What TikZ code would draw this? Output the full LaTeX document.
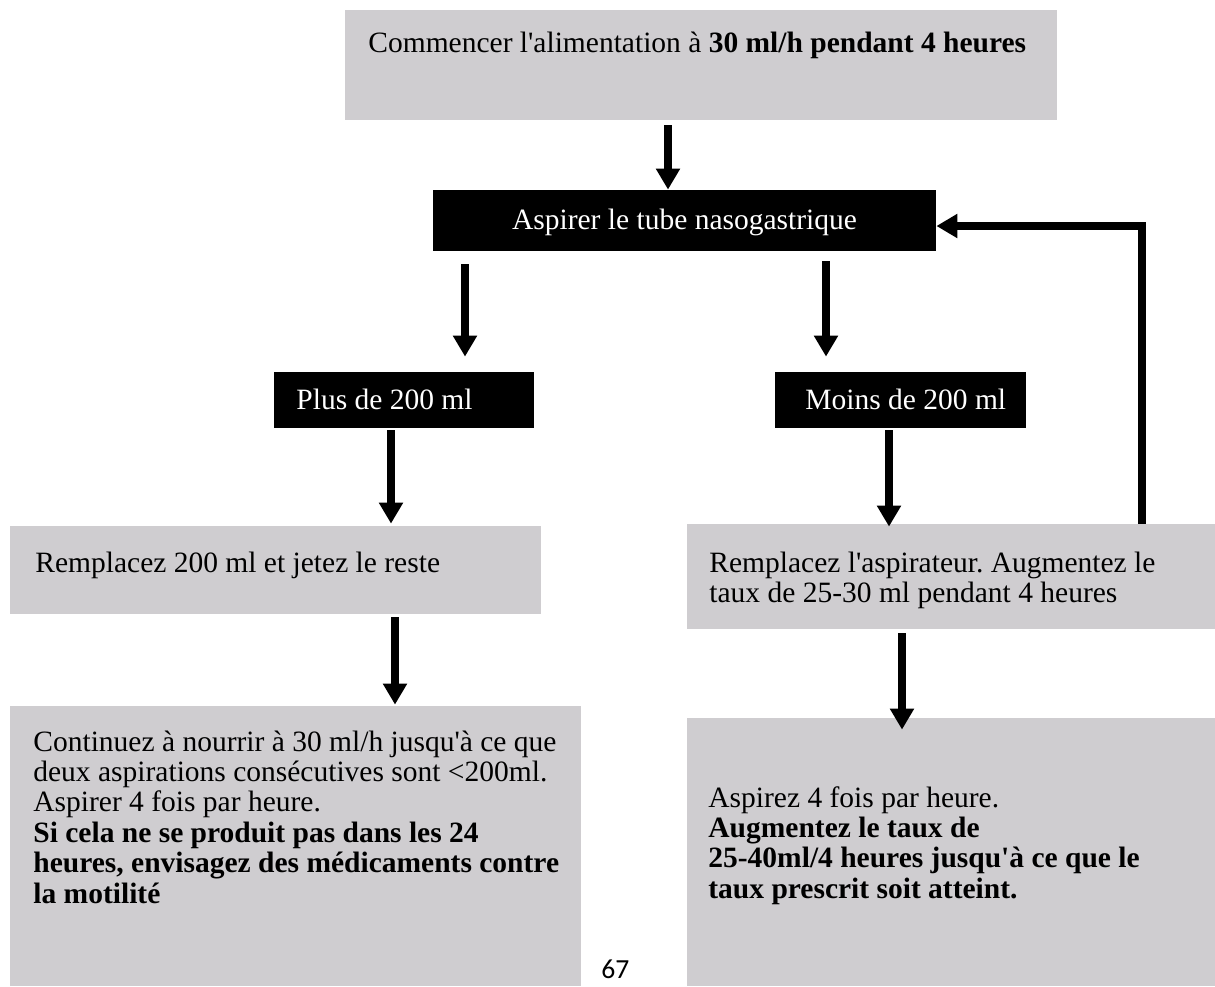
\documentclass[tikz,border=0pt]{standalone}
\usepackage{fontspec}
\setmainfont{Liberation Serif}[Ligatures=TeXOff]
\newfontfamily\pagenumfont{Carlito}
\usetikzlibrary{arrows.meta,fit}
\definecolor{boxgray}{RGB}{207,205,208}
\frenchspacing

\begin{document}
\begin{tikzpicture}[x=0.5pt,y=-0.5pt,
  graybox/.style={fill=boxgray, draw=none, inner sep=0pt},
  blackbox/.style={fill=black, draw=none, inner sep=0pt},
  flow/.style={line width=4pt, -{Triangle[length=10.5pt,width=11.5pt]}},
  body/.style={anchor=base west, inner sep=0pt, font=\fontsize{14.75}{15.2}\selectfont},
  invbody/.style={body, text=white}]

\useasboundingbox (0,0) rectangle (1215,986);

% boxes
\node[graybox,  fit={(345,10)(1057,120)}]   (start)   {};
\node[blackbox, fit={(433,190)(936,251)}]   (aspire)  {};
\node[blackbox, fit={(274,372)(534,428)}]   (plus)    {};
\node[blackbox, fit={(775,372)(1026,428)}]  (moins)   {};
\node[graybox,  fit={(10,526)(541,614)}]    (replace) {};
\node[graybox,  fit={(687,524)(1215,629)}]  (raise)   {};
\node[graybox,  fit={(10,706)(581,986)}]    (wait)    {};
\node[graybox,  fit={(687,718)(1215,986)}]  (advance) {};

% texts
\node[body] (starttxt) at (368,52)
  {Commencer l'alimentation à \textbf{30 ml/h pendant 4 heures}};
\node[font=\fontsize{14.75}{15.2}\selectfont, text=white, inner sep=0pt]
  (aspiretxt) at ([yshift=-1pt]aspire.center) {Aspirer le tube nasogastrique};
\node[invbody] (plustxt)  at (296,409) {Plus de 200 ml};
\node[invbody] (moinstxt) at (805,409) {Moins de 200 ml};
\node[body] (replacetxt) at (35,572) {Remplacez 200 ml et jetez le reste};
\node[body] (raisetxt) at (709,572) {\parbox[t]{300pt}{\raggedright
  Remplacez l'aspirateur. Augmentez le\\
  taux de 25-30 ml pendant 4 heures}};
\node[body] (waittxt) at (33,751) {\parbox[t]{300pt}{\raggedright
  Continuez à nourrir à 30 ml/h jusqu'à ce que\\
  deux aspirations consécutives sont <200ml.\\
  Aspirer 4 fois par heure.\\
  \textbf{Si cela ne se produit pas dans les 24}\\
  \textbf{heures, envisagez des médicaments contre}\\
  \textbf{la motilité}}};
\node[body] (advancetxt) at (708,807) {\parbox[t]{300pt}{\raggedright
  Aspirez 4 fois par heure.\\
  \textbf{Augmentez le taux de}\\
  \textbf{25-40ml/4 heures jusqu'à ce que le}\\
  \textbf{taux prescrit soit atteint.}}};
\node[anchor=base west, inner sep=0pt, font=\pagenumfont\fontsize{13.8}{16}\selectfont]
  (pagenum) at (601,978) {67};

% arrow axes
\coordinate (a1) at (668,0);
\coordinate (a2) at (465,0);
\coordinate (a3) at (826,0);
\coordinate (a4) at (391,0);
\coordinate (a5) at (889,0);
\coordinate (a6) at (395,0);
\coordinate (a7) at (902,0);
\coordinate (fb) at (1142,226);

% connectors
\draw[flow, shorten <=2.5pt] (start.south -| a1) -- (aspire.north -| a1);
\draw[flow, shorten <=6.5pt, shorten >=7.5pt] (aspire.south -| a2) -- (plus.north -| a2);
\draw[flow, shorten <=5pt, shorten >=7.5pt] (aspire.south -| a3) -- (moins.north -| a3);
\draw[flow, shorten <=1pt, shorten >=1pt] (plus.south -| a4) -- (replace.north -| a4);
\draw[flow, shorten <=1pt, shorten >=-1.5pt] (moins.south -| a5) -- (raise.north -| a5);
\draw[flow, shorten <=1.5pt, shorten >=0.5pt] (replace.south -| a6) -- (wait.north -| a6);
\draw[flow, shorten <=2pt, shorten >=-6pt] (raise.south -| a7) -- (advance.north -| a7);
\draw[flow] (raise.north -| fb) |- (aspire.east |- fb);
\end{tikzpicture}
\end{document}
